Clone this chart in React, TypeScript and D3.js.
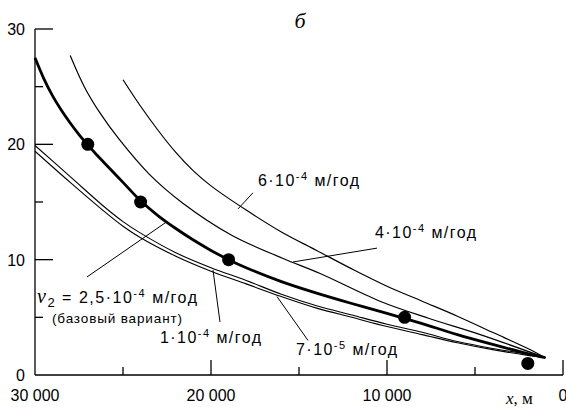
import { useRef, useEffect } from 'react';
import * as d3 from 'd3';

// distance from the end, m / head, m
const v6e4: [number, number][] = [
  [25000, 25.6], [24000, 23.3], [23000, 21.2], [22000, 19.3], [21000, 17.7], [20000, 16.4],
  [18000, 14.3], [16000, 12.4], [14000, 10.8], [12000, 9.2], [10000, 7.7], [8000, 6.4],
  [6000, 5.1], [4000, 3.7], [2000, 2.3], [1000, 1.5],
];
const v4e4: [number, number][] = [
  [28000, 27.7], [27200, 25.0], [26300, 22.7], [25200, 20.4], [23500, 17.4], [21600, 14.9],
  [18800, 12.1], [15900, 10.1], [13800, 8.8], [10400, 6.4], [7600, 4.9], [4700, 3.5], [1000, 1.5],
];
const baseCase: [number, number][] = [
  [30000, 27.5], [29500, 25.7], [29000, 24.2], [28500, 22.95], [28000, 21.85], [27500, 20.85],
  [27000, 19.95], [26500, 19.1], [26000, 18.3], [25000, 16.7], [24000, 15.1], [23000, 13.8],
  [22000, 12.7], [21000, 11.7], [20000, 10.8], [19000, 10.0], [18000, 9.3], [16000, 8.1],
  [14000, 7.1], [12000, 6.2], [10000, 5.35], [9000, 4.9], [8000, 4.45], [6000, 3.5],
  [4000, 2.65], [2000, 1.85], [1000, 1.5],
];
const v1e4: [number, number][] = [
  [30000, 19.9], [28000, 17.2], [26000, 14.5], [25000, 13.3], [24000, 12.3], [22000, 10.6],
  [20000, 9.3], [18000, 8.2], [16000, 7.0], [14000, 6.0], [12000, 5.2], [10000, 4.4],
  [8000, 3.7], [6000, 2.9], [4000, 2.3], [2000, 1.8], [1000, 1.5],
];
const v7e5: [number, number][] = [
  [30000, 19.4], [28000, 16.7], [26000, 14.1], [25000, 12.9], [24000, 11.9], [22000, 10.3],
  [20000, 9.0], [18000, 7.9], [16000, 6.8], [14000, 5.8], [12000, 5.0], [10000, 4.2],
  [8000, 3.5], [6000, 2.8], [4000, 2.2], [2000, 1.7], [1000, 1.5],
];

const obsX = [27000, 24000, 19000, 9000, 2000];
const obsY = [20, 15, 10, 5, 1];

const xTicksMajor = [30000, 20000, 10000, 0];
const xTickLabels = ['30 000', '20 000', '10 000', '0'];
const xTicksMinor = [25000, 15000, 5000];
const yTicksMajor = [30, 20, 10, 0];
const yTicksMinor = [25, 15, 5];

const W = 566;
const H = 412;
const sans = '"Liberation Sans", Arial, sans-serif';
const serif = '"Liberation Serif", "Times New Roman", serif';

export default function App() {
  const ref = useRef<SVGSVGElement>(null);

  useEffect(() => {
    if (!ref.current) return;
    const svg = d3.select(ref.current);
    svg.selectAll('*').remove();

    const x = d3.scaleLinear().domain([30000, 0]).range([35, 563]);
    const y = d3.scaleLinear().domain([0, 30]).range([375, 29]);

    const line = d3
      .line<[number, number]>()
      .x((d) => x(d[0]))
      .y((d) => y(d[1]))
      .curve(d3.curveCatmullRom.alpha(0.5));

    // axes
    const ax = svg.append('g').attr('stroke', '#000').attr('stroke-width', 1.3);
    ax.append('line').attr('x1', x(30000)).attr('x2', x(30000)).attr('y1', y(30)).attr('y2', y(0));
    ax.append('line').attr('x1', x(30000)).attr('x2', x(0)).attr('y1', y(0)).attr('y2', y(0));
    for (const t of yTicksMajor.filter((t) => t > 0)) {
      ax.append('line').attr('x1', x(30000)).attr('x2', x(30000) + 18).attr('y1', y(t)).attr('y2', y(t));
    }
    for (const t of yTicksMinor) {
      ax.append('line').attr('x1', x(30000)).attr('x2', x(30000) + 8).attr('y1', y(t)).attr('y2', y(t));
    }
    for (const t of xTicksMajor.filter((t) => t < 30000)) {
      ax.append('line').attr('x1', x(t)).attr('x2', x(t)).attr('y1', y(0)).attr('y2', y(0) - 15);
    }
    for (const t of xTicksMinor) {
      ax.append('line').attr('x1', x(t)).attr('x2', x(t)).attr('y1', y(0)).attr('y2', y(0) - 8);
    }

    const lab = svg.append('g').attr('font-family', sans).attr('font-size', 16).attr('fill', '#000');
    yTicksMajor.forEach((t) => {
      lab.append('text').attr('x', 25).attr('y', y(t) + 6).attr('text-anchor', 'end').text(String(t));
    });
    xTicksMajor.forEach((t, i) => {
      lab.append('text').attr('x', x(t)).attr('y', 401).attr('text-anchor', 'middle').text(xTickLabels[i]);
    });

    // model curves
    const curves: { data: [number, number][]; w: number }[] = [
      { data: v6e4, w: 1.2 },
      { data: v4e4, w: 1.2 },
      { data: v1e4, w: 1.1 },
      { data: v7e5, w: 1.1 },
      { data: baseCase, w: 2.8 },
    ];
    for (const c of curves) {
      svg.append('path').datum(c.data).attr('fill', 'none').attr('stroke', '#000')
        .attr('stroke-width', c.w).attr('d', line);
    }

    svg.selectAll('circle.obs').data(obsX).enter().append('circle')
      .attr('cx', (d) => x(d)).attr('cy', (_, i) => y(obsY[i])).attr('r', 6.5).attr('fill', '#000');

    // annotations: text anchor and pointer ends, in data units
    const notes = [
      { tx: 17330, ty: 16.4, mant: '6·10', exp: '-4', from: [17614, 15.8], to: [18466, 14.4] },
      { tx: 10682, ty: 11.9, mant: '4·10', exp: '-4', from: [10568, 11.0], to: [15341, 9.8] },
      { tx: 22898, ty: 2.8, mant: '1·10', exp: '-4', from: [19489, 4.6], to: [19886, 9.1] },
      { tx: 15170, ty: 1.7, mant: '7·10', exp: '-5', from: [14489, 3.0], to: [16250, 6.8] },
    ];
    for (const n of notes) {
      svg.append('line').attr('x1', x(n.from[0])).attr('y1', y(n.from[1]))
        .attr('x2', x(n.to[0])).attr('y2', y(n.to[1])).attr('stroke', '#000').attr('stroke-width', 1);
      const t = lab.append('text').attr('x', x(n.tx)).attr('y', y(n.ty))
        .attr('textLength', 101).attr('lengthAdjust', 'spacing');
      t.append('tspan').text(n.mant);
      t.append('tspan').attr('dy', -6).attr('font-size', 11).text(n.exp);
      t.append('tspan').attr('dy', 6).text(' м/год');
    }

    // base case label
    svg.append('line').attr('x1', x(27045)).attr('y1', y(8.5)).attr('x2', x(22500)).attr('y2', y(13.3))
      .attr('stroke', '#000').attr('stroke-width', 1);
    const bt = lab.append('text').attr('x', x(29886)).attr('y', y(6.2))
      .attr('textLength', 160).attr('lengthAdjust', 'spacing');
    bt.append('tspan').attr('font-family', serif).attr('font-style', 'italic').attr('font-size', 20).text('ν');
    bt.append('tspan').attr('dy', 4).attr('font-size', 13).text('2');
    bt.append('tspan').attr('dy', -4).text(' = 2,5·10');
    bt.append('tspan').attr('dy', -6).attr('font-size', 11).text('-4');
    bt.append('tspan').attr('dy', 6).text(' м/год');
    lab.append('text').attr('x', x(29034)).attr('y', y(4.5)).attr('font-size', 13.5)
      .attr('textLength', 130).attr('lengthAdjust', 'spacing').text('(базовый вариант)');

    svg.append('text').attr('x', 300).attr('y', 28).attr('text-anchor', 'middle')
      .attr('font-family', serif).attr('font-style', 'italic').attr('font-size', 22).text('б');

    const xl = svg.append('text').attr('x', 506).attr('y', 404).attr('font-family', serif).attr('font-size', 17);
    xl.append('tspan').attr('font-style', 'italic').text('x');
    xl.append('tspan').text(', м');
  }, []);

  return (
    <svg
      ref={ref}
      width={W}
      height={H}
      viewBox={`0 0 ${W} ${H}`}
      style={{ position: 'absolute', left: 0, top: 0, background: '#fff' }}
    />
  );
}
